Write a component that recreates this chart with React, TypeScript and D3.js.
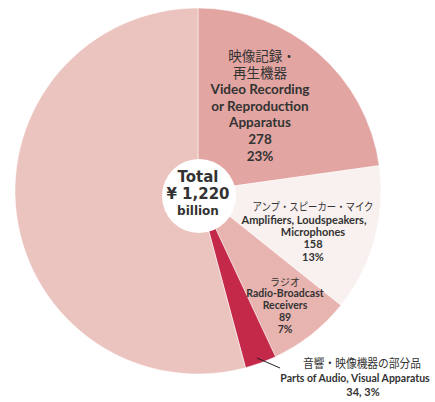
import React from "react";
import * as d3 from "d3";

const categories = [
  "Video Recording or Reproduction Apparatus",
  "Amplifiers, Loudspeakers, Microphones",
  "Radio-Broadcast Receivers",
  "Parts of Audio, Visual Apparatus",
  "Other",
];
const values = [278, 158, 89, 34, 661];
const percents = ["23%", "13%", "7%", "3%", "54%"];
const jpLabels = [["映像記録・", "再生機器"], ["アンプ・スピーカー・マイク"], ["ラジオ"], ["音響・映像機器の部分品"], []];
const enLabels = [
  ["Video Recording", "or Reproduction", "Apparatus"],
  ["Amplifiers, Loudspeakers,", "Microphones"],
  ["Radio-Broadcast", "Receivers"],
  ["Parts of Audio, Visual Apparatus"],
  [],
];
const totalLabel = ["Total", "¥ 1,220", "billion"];

const colors = ["#e2a5a1", "#f9f1ef", "#e8b4b0", "#c4294a", "#ebc3bf"];

const W = 435, H = 402;
const cx = 198, cy = 191, R = 183;

const EN = "Lato, 'Open Sans', sans-serif";
const JP = "'Noto Sans CJK JP', sans-serif";
const TXT = "#333";

export default function App() {
  const pie = d3.pie<number>().sort(null).value((d) => d).startAngle(0).endAngle(2 * Math.PI);
  const arcs = pie(values);
  const arc = d3.arc<d3.PieArcDatum<number>>().innerRadius(0).outerRadius(R);

  const line = (t: string, x: number, y: number, size: number, family: string, weight: string | number, len?: number) => (
    <text
      key={t + x + y}
      x={x}
      y={y}
      textAnchor="middle"
      dominantBaseline="central"
      fontSize={size}
      fontFamily={family}
      fontWeight={weight}
      fill={TXT}
      textLength={len}
      lengthAdjust={len ? "spacingAndGlyphs" : undefined}
    >
      {t}
    </text>
  );

  return (
    <svg width={W} height={H} style={{ position: "absolute", left: 0, top: 0 }}>
      <rect width={W} height={H} fill="#fff" />
      <g transform={`translate(${cx},${cy})`}>
        {arcs.map((a, i) => (
          <path key={categories[i]} d={arc(a) || ""} fill={colors[i]} stroke="#fff" strokeOpacity={0.5} strokeWidth={1} />
        ))}
      </g>
      <circle cx={199} cy={196} r={37} fill="#fff" />
      {line(totalLabel[0], 198, 177, 15, "'DejaVu Sans', sans-serif", "bold")}
      {line(totalLabel[1], 198, 194, 15, "'DejaVu Sans', sans-serif", "bold")}
      {line(totalLabel[2], 198, 211, 12, "'DejaVu Sans', sans-serif", "bold")}

      {/* slice 1 */}
      <text textAnchor="middle" dominantBaseline="central" fontSize={13.5} fontFamily={JP} fill={TXT}>
        <tspan x={262} y={55}>{jpLabels[0][0]}</tspan>
        <tspan x={260} y={72}>{jpLabels[0][1]}</tspan>
      </text>
      {line(enLabels[0][0], 260, 89, 13.5, EN, 700)}
      {line(enLabels[0][1], 260, 106, 13.5, EN, 700)}
      {line(enLabels[0][2], 260, 122, 13.5, EN, 700)}
      {line(String(values[0]), 260, 139, 13.5, EN, 700)}
      {line(percents[0], 260, 156, 13.5, EN, 700)}

      {/* slice 2 */}
      {line(jpLabels[1][0], 313, 206, 11, JP, 400, 121)}
      {line(enLabels[1][0], 304, 219, 11, EN, 700)}
      {line(enLabels[1][1], 313, 231, 11, EN, 700)}
      {line(String(values[1]), 313, 243, 11, EN, 700)}
      {line(percents[1], 313, 256, 11, EN, 700)}

      {/* slice 3 */}
      {line(jpLabels[2][0], 285, 281, 10, JP, 400)}
      {line(enLabels[2][0], 285, 293, 10.5, EN, 700)}
      {line(enLabels[2][1], 285, 304.5, 10.5, EN, 700)}
      {line(String(values[2]), 285, 316.5, 10.5, EN, 700)}
      {line(percents[2], 285, 328.5, 10.5, EN, 700)}

      {/* slice 4 */}
      <line x1={257} y1={358} x2={280} y2={368} stroke="#222" strokeWidth={1} />
      {line(jpLabels[3][0], 362, 362, 12, JP, 400, 118)}
      {line(enLabels[3][0], 355, 378, 10.5, EN, 700)}
      {line(`${values[3]}, ${percents[3]}`, 363, 391, 11, EN, 700)}
    </svg>
  );
}
